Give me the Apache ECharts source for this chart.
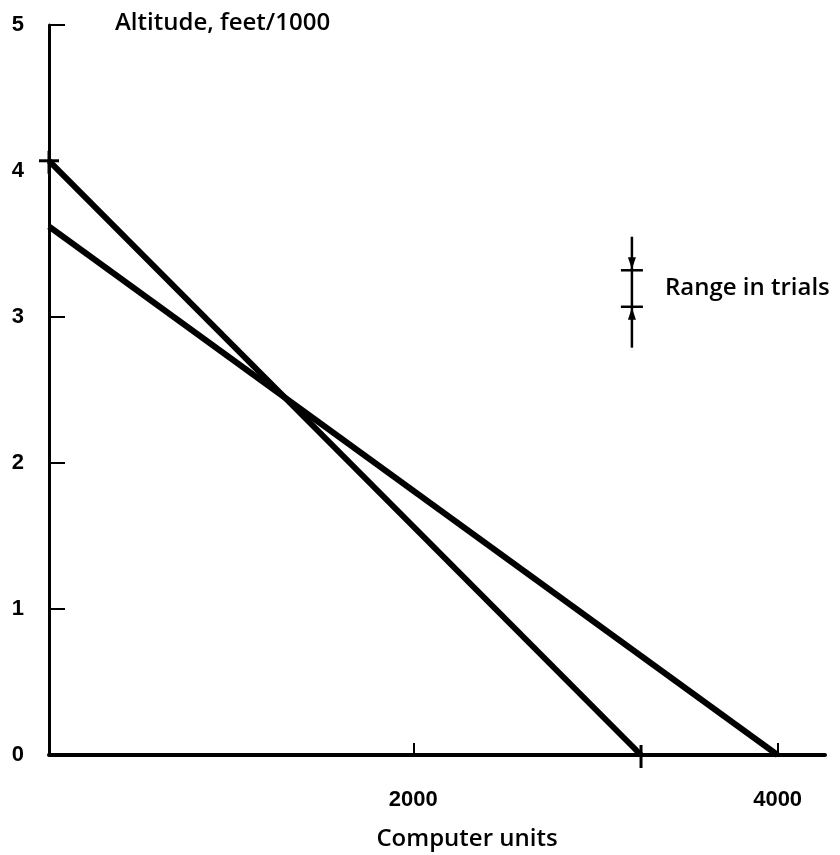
<!DOCTYPE html>
<html>
<head>
<meta charset="utf-8">
<script src="https://cdn.jsdelivr.net/npm/echarts@6/dist/echarts.min.js"></script>
<style>
  html, body { margin: 0; padding: 0; background: #fff; }
  #chart { width: 840px; height: 855px; }
</style>
</head>
<body>
<div id="chart"></div>
<script>
// Descent profiles: altitude (feet/1000) against computer units
const steepLine = [[0, 4.07], [3250, 0]];
const shallowLine = [[0, 3.62], [4000, 0]];

// Start / end crosses on the steep profile
const crossPoints = [[0, 4.07], [3250, 0]];

// Range-in-trials marker: x position and its vertical stops
const rangeX = 3200;
const rangeStops = [2.79, 3.07, 3.32, 3.55];
const rangeLabel = 'Range in trials';

// Axis ticks and labels
const xTickValues = [2000, 4000];
const yTickValues = [1, 2, 3, 5];
const yLabelValues = [0, 1, 2, 3, 4, 5];

const TEXT_FONT = 'Open Sans';
const NUM_FONT = 'Liberation Sans';
const INK = '#000';

const chart = echarts.init(document.getElementById('chart'));

chart.setOption({
  backgroundColor: '#fff',
  animation: false,
  grid: { left: 49, right: 15, top: 25, bottom: 100, outerBoundsMode: 'none' },
  xAxis: {
    type: 'value',
    min: 0,
    max: 4260,
    name: 'Computer units',
    nameLocation: 'middle',
    nameGap: 72,
    nameTextStyle: { color: INK, fontFamily: TEXT_FONT, fontWeight: 600, fontSize: 24, padding: [0, 0, 0, 60] },
    axisLine: { lineStyle: { color: INK, width: 4 } },
    axisTick: { inside: true, length: 12, lineStyle: { color: INK, width: 2 }, customValues: xTickValues },
    axisLabel: {
      color: INK, fontFamily: NUM_FONT, fontWeight: 'bold', fontSize: 22, margin: 34,
      customValues: xTickValues,
      formatter: function (v) { return String(v); }
    },
    splitLine: { show: false }
  },
  yAxis: {
    type: 'value',
    min: 0,
    max: 5,
    name: 'Altitude, feet/1000',
    nameLocation: 'end',
    nameGap: 2,
    nameTextStyle: { color: INK, fontFamily: TEXT_FONT, fontWeight: 600, fontSize: 24, align: 'left', verticalAlign: 'middle', padding: [0, 0, 0, 66] },
    axisLine: { lineStyle: { color: INK, width: 3 } },
    axisTick: { inside: true, length: 16, lineStyle: { color: INK, width: 2 }, customValues: yTickValues },
    axisLabel: {
      color: INK, fontFamily: NUM_FONT, fontWeight: 'bold', fontSize: 22, margin: 25,
      customValues: yLabelValues
    },
    splitLine: { show: false }
  },
  series: [
    {
      type: 'line',
      data: steepLine,
      symbol: 'none',
      lineStyle: { color: INK, width: 6 }
    },
    {
      type: 'line',
      data: shallowLine,
      symbol: 'none',
      lineStyle: { color: INK, width: 6 }
    },
    {
      // small plus marks at the ends of the steep profile
      type: 'custom',
      data: crossPoints,
      renderItem: function (params, api) {
        const p = api.coord([api.value(0), api.value(1)]);
        const s = 10;
        return {
          type: 'group',
          children: [
            { type: 'line', shape: { x1: p[0] - s, y1: p[1], x2: p[0] + s, y2: p[1] }, style: { stroke: INK, lineWidth: 3 } },
            { type: 'line', shape: { x1: p[0], y1: p[1] - s, x2: p[0], y2: p[1] + s + 3 }, style: { stroke: INK, lineWidth: 3 } }
          ]
        };
      },
      z: 5
    },
    {
      // range bar with crossbars and inward arrowheads
      type: 'custom',
      data: [[rangeX].concat(rangeStops)],
      renderItem: function (params, api) {
        const x = api.value(0);
        const pBot = api.coord([x, api.value(1)]);
        const pLow = api.coord([x, api.value(2)]);
        const pHigh = api.coord([x, api.value(3)]);
        const pTop = api.coord([x, api.value(4)]);
        const cx = pBot[0];
        const bar = 11;
        const ah = 11, aw = 4;
        return {
          type: 'group',
          children: [
            { type: 'line', shape: { x1: cx, y1: pTop[1], x2: cx, y2: pBot[1] }, style: { stroke: INK, lineWidth: 2.5 } },
            { type: 'line', shape: { x1: cx - bar, y1: pHigh[1], x2: cx + bar, y2: pHigh[1] }, style: { stroke: INK, lineWidth: 2.5 } },
            { type: 'line', shape: { x1: cx - bar, y1: pLow[1], x2: cx + bar, y2: pLow[1] }, style: { stroke: INK, lineWidth: 2.5 } },
            { type: 'polygon', shape: { points: [[cx - aw, pHigh[1] - ah - 2], [cx + aw, pHigh[1] - ah - 2], [cx, pHigh[1] - 1]] }, style: { fill: INK } },
            { type: 'polygon', shape: { points: [[cx - aw, pLow[1] + ah + 2], [cx + aw, pLow[1] + ah + 2], [cx, pLow[1] + 1]] }, style: { fill: INK } },
            {
              type: 'text',
              x: cx + 33,
              y: (pHigh[1] + pLow[1]) / 2,
              style: { text: rangeLabel, fill: INK, fontFamily: TEXT_FONT, fontWeight: 600, fontSize: 24, verticalAlign: 'middle', align: 'left' }
            }
          ]
        };
      },
      z: 5
    }
  ]
});
</script>
</body>
</html>
